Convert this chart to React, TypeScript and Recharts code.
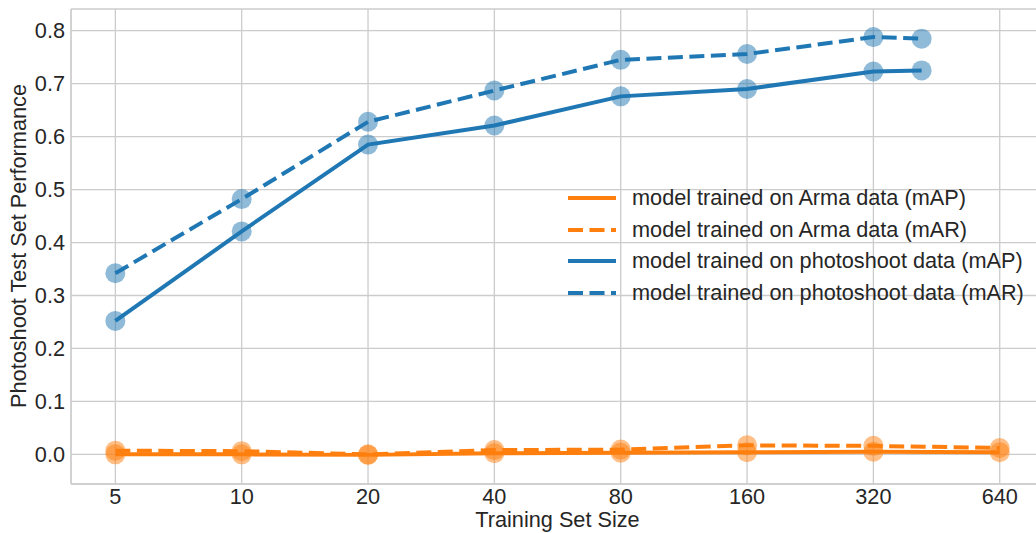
import React from 'react';
import { LineChart, Line, XAxis, YAxis, CartesianGrid, Label } from 'recharts';

const armaSizes = [5, 10, 20, 40, 80, 160, 320, 640];
const armaMAP = [0.0, 0.0, -0.001, 0.002, 0.003, 0.004, 0.005, 0.004];
const armaMAR = [0.007, 0.006, 0.0, 0.008, 0.009, 0.017, 0.016, 0.012];

const photoSizes = [5, 10, 20, 40, 80, 160, 320, 417];
const photoMAP = [0.252, 0.421, 0.585, 0.621, 0.676, 0.69, 0.723, 0.725];
const photoMAR = [0.342, 0.482, 0.628, 0.687, 0.745, 0.756, 0.788, 0.785];

const xTicks = [5, 10, 20, 40, 80, 160, 320, 640];
const yTicks = [0, 0.1, 0.2, 0.3, 0.4, 0.5, 0.6, 0.7, 0.8];

const ORANGE = '#ff7f0e';
const BLUE = '#1f77b4';
const GRID = '#cccccc';
const TEXT = '#262626';
const FONT = '"Liberation Sans", Arial, sans-serif';
const FS = 21.7;

const toRows = (xs: number[], ys: number[]) => xs.map((x, i) => ({ x, y: ys[i] }));

const series = [
  { name: 'model trained on Arma data (mAP)', data: toRows(armaSizes, armaMAP), color: ORANGE, dashed: false },
  { name: 'model trained on Arma data (mAR)', data: toRows(armaSizes, armaMAR), color: ORANGE, dashed: true },
  { name: 'model trained on photoshoot data (mAP)', data: toRows(photoSizes, photoMAP), color: BLUE, dashed: false },
  { name: 'model trained on photoshoot data (mAR)', data: toRows(photoSizes, photoMAR), color: BLUE, dashed: true },
];

const xDomain = [3.92, 816];
const yDomain = [-0.056, 0.841];

export default function App() {
  const tickStyle = { fill: TEXT, fontSize: FS, fontFamily: FONT };
  return (
    <div style={{ position: 'absolute', left: 0, top: 0, width: 1036, height: 533, overflow: 'hidden', background: '#fff' }}>
      <LineChart width={1050} height={533} margin={{ top: 9, right: 6, bottom: 0, left: 0 }}>
        <CartesianGrid stroke={GRID} strokeWidth={1.3} />
        <XAxis
          dataKey="x"
          type="number"
          scale="log"
          domain={xDomain}
          ticks={xTicks}
          allowDataOverflow
          height={49}
          tickSize={0}
          tickMargin={5}
          tick={tickStyle}
          axisLine={{ stroke: GRID, strokeWidth: 1.3 }}
        >
          <Label
            value="Training Set Size"
            position="insideBottom"
            offset={6}
            style={{ fill: TEXT, fontSize: FS, fontFamily: FONT }}
          />
        </XAxis>
        <XAxis
          xAxisId="top"
          orientation="top"
          dataKey="x"
          type="number"
          scale="log"
          domain={xDomain}
          allowDataOverflow
          height={0}
          tick={false}
          tickLine={false}
          axisLine={{ stroke: GRID, strokeWidth: 1.3 }}
        />
        <YAxis
          type="number"
          domain={yDomain}
          ticks={yTicks}
          allowDataOverflow
          width={71}
          tickSize={0}
          tickMargin={6}
          tick={tickStyle}
          tickFormatter={(v: number) => v.toFixed(1)}
          axisLine={{ stroke: GRID, strokeWidth: 1.3 }}
        >
          <Label
            content={() => (
              <text
                x={26}
                y={246}
                transform="rotate(-90 26 246)"
                textAnchor="middle"
                fill={TEXT}
                fontSize={FS}
                fontFamily={FONT}
              >
                Photoshoot Test Set Performance
              </text>
            )}
          />
        </YAxis>
        {series.map((s) => (
          <Line
            key={s.name}
            data={s.data}
            dataKey="y"
            name={s.name}
            stroke={s.color}
            strokeWidth={4}
            strokeDasharray={s.dashed ? '15 6.5' : undefined}
            dot={{ r: 10, fill: s.color, fillOpacity: 0.5, stroke: 'none' }}
            activeDot={false}
            isAnimationActive={false}
          />
        ))}
      </LineChart>
      <div style={{ position: 'absolute', left: 568, top: 182, fontFamily: FONT, fontSize: FS, color: TEXT }}>
        {series.map((s) => (
          <div key={s.name} style={{ display: 'flex', alignItems: 'center', height: 31.7 }}>
            <svg width={48} height={10} style={{ marginRight: 16 }}>
              <line
                x1={0}
                y1={5}
                x2={48}
                y2={5}
                stroke={s.color}
                strokeWidth={4}
                strokeDasharray={s.dashed ? '15 6.5' : undefined}
              />
            </svg>
            <span style={{ whiteSpace: 'nowrap' }}>{s.name}</span>
          </div>
        ))}
      </div>
    </div>
  );
}
